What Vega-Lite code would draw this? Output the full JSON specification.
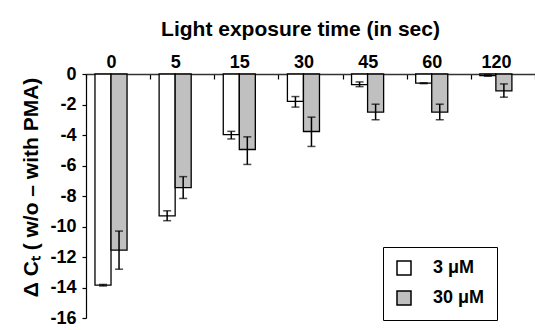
{
  "$schema": "https://vega.github.io/schema/vega-lite/v6.json",
  "autosize": {"type": "none"},
  "width": 449,
  "height": 244,
  "padding": {"left": 86, "top": 74, "right": 0, "bottom": 12},
  "background": "white",
  "config": {
    "view": {"stroke": null},
    "font": "Liberation Sans",
    "axis": {"labelFont": "Liberation Sans", "titleFont": "Liberation Sans", "labelColor": "black", "titleColor": "black", "domainColor": "black", "tickColor": "black", "grid": false}
  },
  "data": {
    "values": [
      {"time": "0", "conc": "3 μM", "value": -13.85, "lo": -13.9, "hi": -13.8},
      {"time": "0", "conc": "30 μM", "value": -11.55, "lo": -12.8, "hi": -10.3},
      {"time": "5", "conc": "3 μM", "value": -9.3, "lo": -9.62, "hi": -8.97},
      {"time": "5", "conc": "30 μM", "value": -7.45, "lo": -8.16, "hi": -6.73},
      {"time": "15", "conc": "3 μM", "value": -3.97, "lo": -4.26, "hi": -3.76},
      {"time": "15", "conc": "30 μM", "value": -4.95, "lo": -5.93, "hi": -4.12},
      {"time": "30", "conc": "3 μM", "value": -1.8, "lo": -2.17, "hi": -1.48},
      {"time": "30", "conc": "30 μM", "value": -3.77, "lo": -4.75, "hi": -2.83},
      {"time": "45", "conc": "3 μM", "value": -0.7, "lo": -0.83, "hi": -0.52},
      {"time": "45", "conc": "30 μM", "value": -2.5, "lo": -3.0, "hi": -1.98},
      {"time": "60", "conc": "3 μM", "value": -0.6, "lo": -0.63, "hi": -0.58},
      {"time": "60", "conc": "30 μM", "value": -2.5, "lo": -3.0, "hi": -1.98},
      {"time": "120", "conc": "3 μM", "value": -0.1, "lo": -0.15, "hi": -0.05},
      {"time": "120", "conc": "30 μM", "value": -1.11, "lo": -1.52, "hi": -0.65}
    ]
  },
  "encoding": {
    "x": {
      "field": "time", "type": "nominal", "sort": null,
      "scale": {"paddingInner": 0, "paddingOuter": 0},
      "axis": {
        "orient": "top", "title": "Light exposure time (in sec)", "labelAngle": 0,
        "labelFontSize": 18, "labelFontWeight": "bold", "labelOffset": -7, "labelPadding": 8,
        "tickBand": "extent", "tickSize": -5, "tickWidth": 1.2,
        "domainWidth": 1.5, "domainColor": "#333333",
        "titleFontSize": 21, "titleFontWeight": "bold", "titlePadding": 14, "titleX": 214
      }
    },
    "xOffset": {
      "field": "conc", "type": "nominal",
      "scale": {"domain": ["3 μM", "30 μM"], "paddingInner": 0, "paddingOuter": 1.3, "align": 0.28}
    },
    "y": {
      "type": "quantitative",
      "scale": {"domain": [-16, 0], "nice": false, "zero": false},
      "axis": {
        "title": "Δ Cₜ ( w/o – with PMA)", "values": [-16, -14, -12, -10, -8, -6, -4, -2, 0],
        "labelOverlap": false, "labelBound": false, "labelFlush": false,
        "labelExpr": "'' + datum.value", "labelFontSize": 18, "labelFontWeight": "bold",
        "labelPadding": 6, "tickSize": 4, "tickWidth": 1.2, "domainWidth": 1.2,
        "titleFontSize": 21, "titleFontWeight": "bold", "titlePadding": 8, "titleY": 113
      }
    }
  },
  "layer": [
    {
      "mark": {"type": "bar", "stroke": "black", "strokeWidth": 1.3},
      "encoding": {
        "y": {"field": "value", "type": "quantitative"},
        "y2": {"datum": 0},
        "fill": {
          "field": "conc", "type": "nominal",
          "scale": {"domain": ["3 μM", "30 μM"], "range": ["#ffffff", "#c0c0c0"]},
          "legend": {
            "title": null, "orient": "none", "legendX": 297, "legendY": 173,
            "direction": "vertical",
            "strokeColor": "black", "fillColor": "white", "padding": 12,
            "symbolType": "square", "symbolSize": 196, "symbolStrokeColor": "black", "symbolStrokeWidth": 1.5,
            "labelFontSize": 18, "labelFontWeight": "bold", "labelOffset": 20, "labelColor": "black",
            "rowPadding": 10, "symbolOpacity": 1
          }
        }
      }
    },
    {
      "mark": {"type": "rule", "color": "black", "strokeWidth": 1.5},
      "encoding": {
        "y": {"field": "lo", "type": "quantitative"},
        "y2": {"field": "hi"}
      }
    },
    {
      "mark": {"type": "tick", "orient": "horizontal", "color": "black", "size": 8, "thickness": 1.5},
      "encoding": {"y": {"field": "lo", "type": "quantitative"}}
    },
    {
      "mark": {"type": "tick", "orient": "horizontal", "color": "black", "size": 8, "thickness": 1.5},
      "encoding": {"y": {"field": "hi", "type": "quantitative"}}
    }
  ]
}
